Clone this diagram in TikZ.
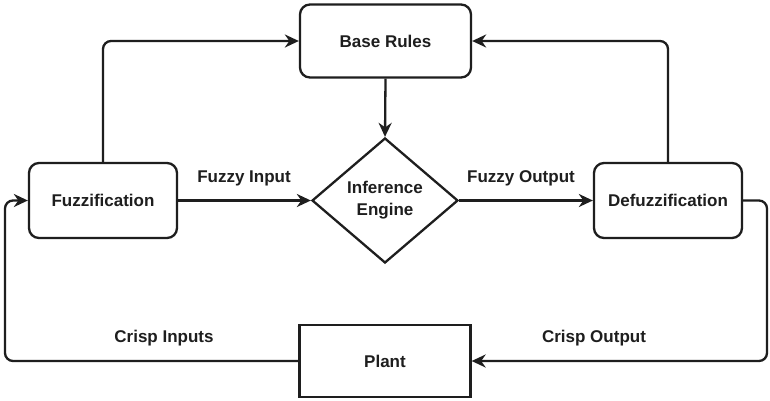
\documentclass[tikz,border=0pt]{standalone}
\usepackage{fontspec}
\setmainfont{Liberation Sans}
\usetikzlibrary{shapes.geometric,arrows.meta}
\definecolor{ink}{HTML}{1E1E1E}
\begin{document}
\begin{tikzpicture}[x=1pt,y=-1pt,
  every node/.style={font=\bfseries\fontsize{17}{22}\selectfont, text=ink},
  box/.style={draw=ink, line width=2.3pt, rounded corners=10pt, inner sep=0pt},
  sqbox/.style={draw=ink, line width=2.3pt, inner sep=0pt},
  conn/.style={draw=ink, line width=2.3pt, rounded corners=8pt, -{Stealth[length=14pt,width=13pt,inset=4.5pt]}},
  lbl/.style={inner sep=0pt}]
\useasboundingbox (0,0) rectangle (770,400);
\fill[white] (0,0) rectangle (770,400);
\node[box, minimum width=171pt, minimum height=73pt] (base) at (385.5,41) {Base Rules};
\node[box, minimum width=148pt, minimum height=75pt] (fuzz) at (103,200.5) {Fuzzification};
\node[box, minimum width=148pt, minimum height=75pt] (defuzz) at (668,200.5) {Defuzzification};
\node[draw=ink, line width=2.3pt, shape=diamond, inner sep=0pt, minimum width=146pt, minimum height=125pt, align=center] (inf) at (385,200.5) {Inference\\Engine};
\node[sqbox, minimum width=171pt, minimum height=72pt] (plant) at (385,361) {Plant};
\coordinate (lc) at (5,200.5);
\coordinate (rc) at (767,200.5);
\draw[conn] (fuzz.north) |- (base.west);
\draw[conn] (defuzz.north) |- (base.east);
\draw[conn] (base.south) -- (inf.north);
\draw[conn] (fuzz.east) -- (inf.west);
\draw[conn] (inf.east) -- (defuzz.west);
\draw[conn] (defuzz.east) -- (rc) |- (plant.east);
\draw[conn] (plant.west) -| (lc) -- (fuzz.west);
\node[lbl] (fi) at (244,178) {Fuzzy Input};
\node[lbl] (fo) at (521,178) {Fuzzy Output};
\node[lbl] (ci) at (164,338) {Crisp Inputs};
\node[lbl] (co) at (594,338) {Crisp Output};
\end{tikzpicture}
\end{document}
